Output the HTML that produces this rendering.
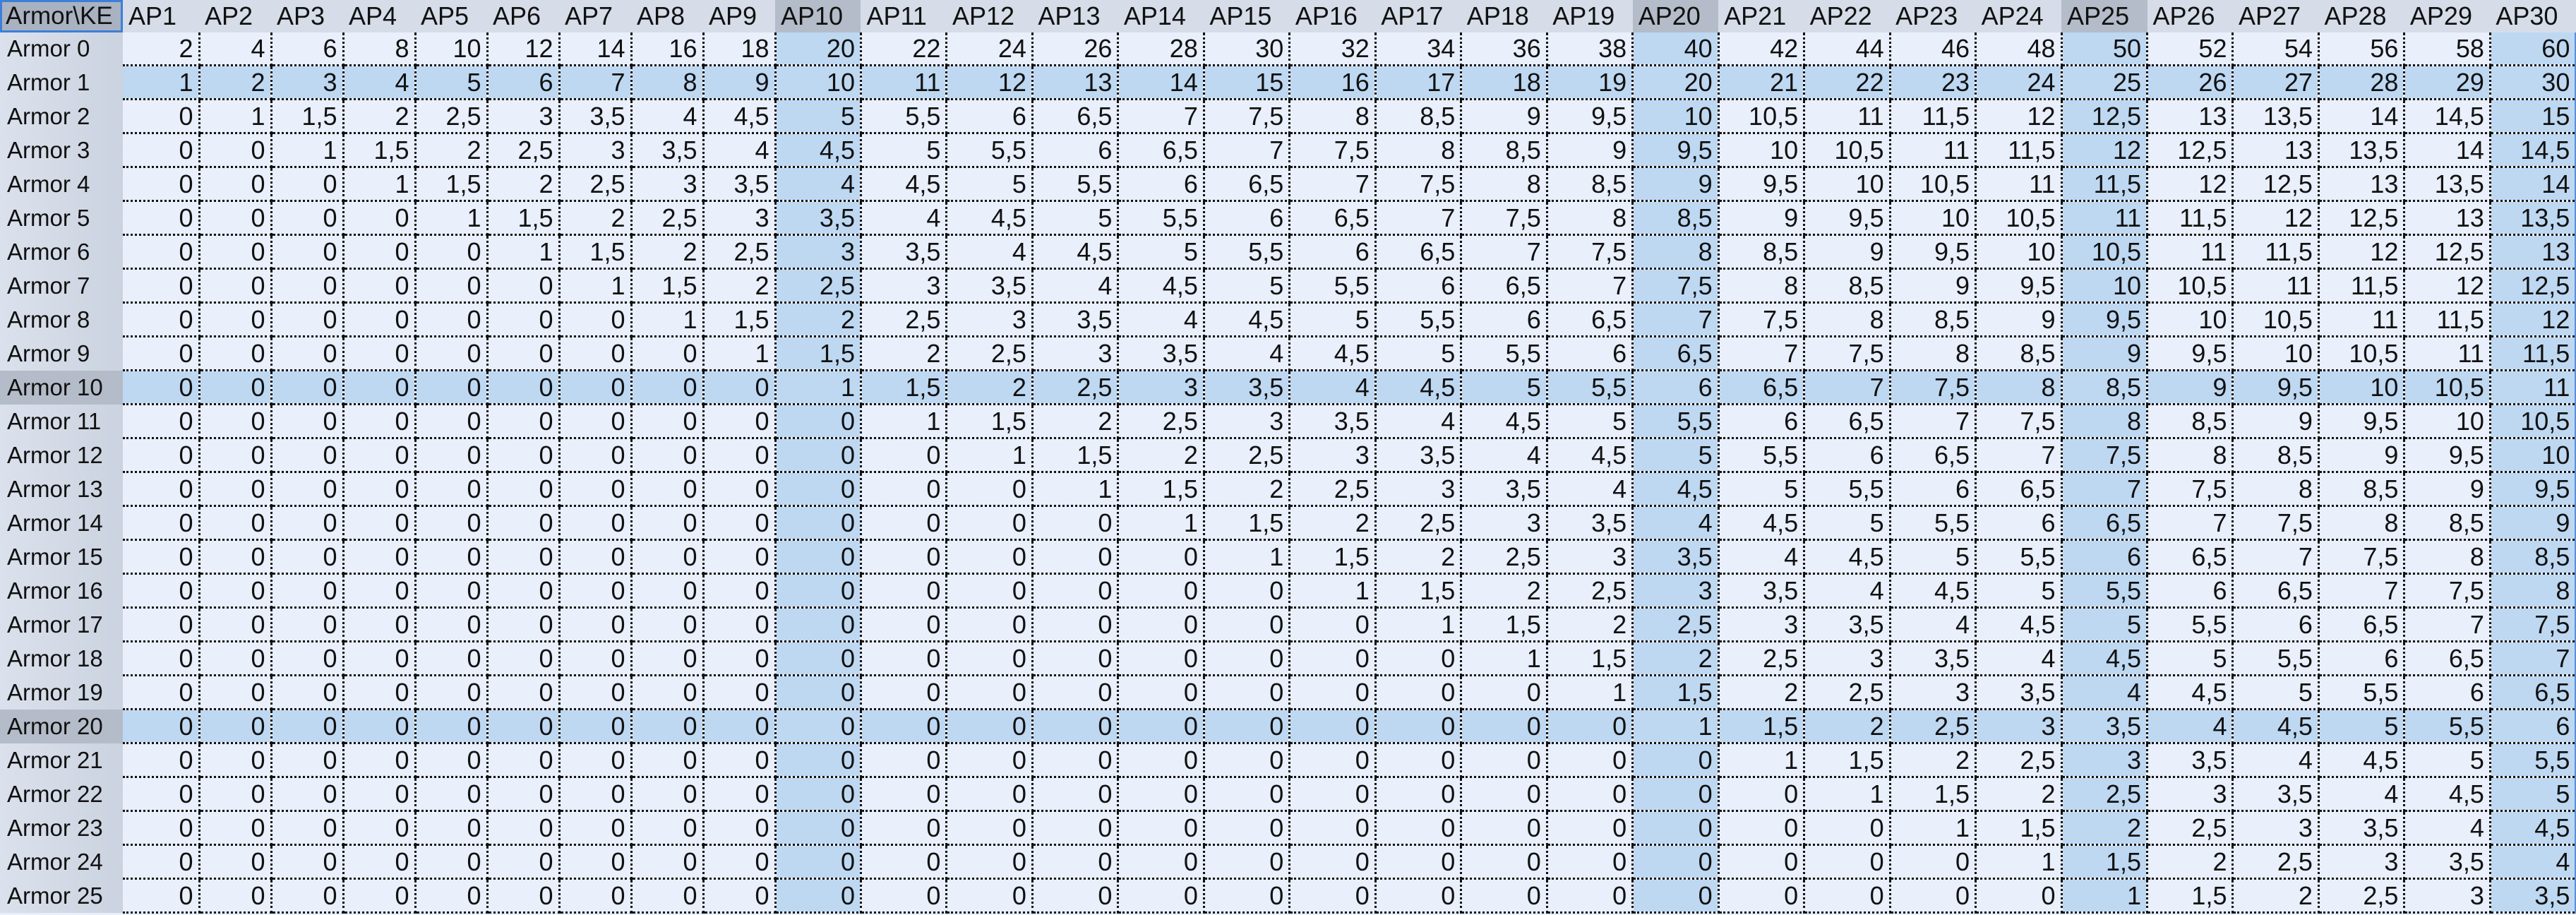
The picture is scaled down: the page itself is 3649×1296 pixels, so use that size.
<!DOCTYPE html>
<html><head><meta charset="utf-8"><style>
html,body{margin:0;padding:0;background:#e9effb;}
body{width:3649px;height:1296px;overflow:hidden;}
table{border-collapse:collapse;table-layout:fixed;width:3649px;background:#e9effb;font-family:"Liberation Sans",Arial,sans-serif;color:#111;}
col.h{background:#bed8f2;}
thead td{height:46px;background:#d6dde9;font-size:36px;text-align:left;padding:0 0 0 8px;border:none;white-space:nowrap;overflow:hidden;vertical-align:middle;}
thead td.s{background:#b4bcc9;}
thead td.c{background:#a9b2c1;box-shadow:inset 0 0 0 3px #3d7fd8;font-size:35px;padding-left:8px;}
tbody td{height:45px;font-size:36px;text-align:right;padding:0 7px 0 0;border-right:3px dotted #111;border-bottom:3px dotted #111;white-space:nowrap;overflow:hidden;vertical-align:middle;}
tbody tr.h{background:#bed8f2;}
tbody th{font-weight:normal;text-align:left;font-size:33px;padding:0 0 0 10px;background:linear-gradient(90deg,#dbe1ec,#cbd3e0);border:none;white-space:nowrap;vertical-align:middle;height:45px;}
tbody th.s{background:#b4bcc9;}
tbody td:last-child{border-right:3px solid #5b8fd6;}
</style></head><body>
<table>
<colgroup><col style="width:174px"><col style="width:108px"><col style="width:102px"><col style="width:102px"><col style="width:102px"><col style="width:102px"><col style="width:102px"><col style="width:102px"><col style="width:102px"><col style="width:102px"><col class="h" style="width:121.47px"><col style="width:121.47px"><col style="width:121.47px"><col style="width:121.47px"><col style="width:121.47px"><col style="width:121.47px"><col style="width:121.47px"><col style="width:121.47px"><col style="width:121.47px"><col style="width:121.47px"><col class="h" style="width:121.47px"><col style="width:121.47px"><col style="width:121.47px"><col style="width:121.47px"><col style="width:121.47px"><col class="h" style="width:121.47px"><col style="width:121.47px"><col style="width:121.47px"><col style="width:121.47px"><col style="width:121.47px"><col class="h" style="width:121.47px"></colgroup>
<thead><tr><td class="c">Armor\KE</td><td>AP1</td><td>AP2</td><td>AP3</td><td>AP4</td><td>AP5</td><td>AP6</td><td>AP7</td><td>AP8</td><td>AP9</td><td class="s">AP10</td><td>AP11</td><td>AP12</td><td>AP13</td><td>AP14</td><td>AP15</td><td>AP16</td><td>AP17</td><td>AP18</td><td>AP19</td><td class="s">AP20</td><td>AP21</td><td>AP22</td><td>AP23</td><td>AP24</td><td class="s">AP25</td><td>AP26</td><td>AP27</td><td>AP28</td><td>AP29</td><td>AP30</td></tr></thead>
<tbody>
<tr><th>Armor 0</th><td>2</td><td>4</td><td>6</td><td>8</td><td>10</td><td>12</td><td>14</td><td>16</td><td>18</td><td>20</td><td>22</td><td>24</td><td>26</td><td>28</td><td>30</td><td>32</td><td>34</td><td>36</td><td>38</td><td>40</td><td>42</td><td>44</td><td>46</td><td>48</td><td>50</td><td>52</td><td>54</td><td>56</td><td>58</td><td>60</td></tr>
<tr class="h"><th>Armor 1</th><td>1</td><td>2</td><td>3</td><td>4</td><td>5</td><td>6</td><td>7</td><td>8</td><td>9</td><td>10</td><td>11</td><td>12</td><td>13</td><td>14</td><td>15</td><td>16</td><td>17</td><td>18</td><td>19</td><td>20</td><td>21</td><td>22</td><td>23</td><td>24</td><td>25</td><td>26</td><td>27</td><td>28</td><td>29</td><td>30</td></tr>
<tr><th>Armor 2</th><td>0</td><td>1</td><td>1,5</td><td>2</td><td>2,5</td><td>3</td><td>3,5</td><td>4</td><td>4,5</td><td>5</td><td>5,5</td><td>6</td><td>6,5</td><td>7</td><td>7,5</td><td>8</td><td>8,5</td><td>9</td><td>9,5</td><td>10</td><td>10,5</td><td>11</td><td>11,5</td><td>12</td><td>12,5</td><td>13</td><td>13,5</td><td>14</td><td>14,5</td><td>15</td></tr>
<tr><th>Armor 3</th><td>0</td><td>0</td><td>1</td><td>1,5</td><td>2</td><td>2,5</td><td>3</td><td>3,5</td><td>4</td><td>4,5</td><td>5</td><td>5,5</td><td>6</td><td>6,5</td><td>7</td><td>7,5</td><td>8</td><td>8,5</td><td>9</td><td>9,5</td><td>10</td><td>10,5</td><td>11</td><td>11,5</td><td>12</td><td>12,5</td><td>13</td><td>13,5</td><td>14</td><td>14,5</td></tr>
<tr><th>Armor 4</th><td>0</td><td>0</td><td>0</td><td>1</td><td>1,5</td><td>2</td><td>2,5</td><td>3</td><td>3,5</td><td>4</td><td>4,5</td><td>5</td><td>5,5</td><td>6</td><td>6,5</td><td>7</td><td>7,5</td><td>8</td><td>8,5</td><td>9</td><td>9,5</td><td>10</td><td>10,5</td><td>11</td><td>11,5</td><td>12</td><td>12,5</td><td>13</td><td>13,5</td><td>14</td></tr>
<tr><th>Armor 5</th><td>0</td><td>0</td><td>0</td><td>0</td><td>1</td><td>1,5</td><td>2</td><td>2,5</td><td>3</td><td>3,5</td><td>4</td><td>4,5</td><td>5</td><td>5,5</td><td>6</td><td>6,5</td><td>7</td><td>7,5</td><td>8</td><td>8,5</td><td>9</td><td>9,5</td><td>10</td><td>10,5</td><td>11</td><td>11,5</td><td>12</td><td>12,5</td><td>13</td><td>13,5</td></tr>
<tr><th>Armor 6</th><td>0</td><td>0</td><td>0</td><td>0</td><td>0</td><td>1</td><td>1,5</td><td>2</td><td>2,5</td><td>3</td><td>3,5</td><td>4</td><td>4,5</td><td>5</td><td>5,5</td><td>6</td><td>6,5</td><td>7</td><td>7,5</td><td>8</td><td>8,5</td><td>9</td><td>9,5</td><td>10</td><td>10,5</td><td>11</td><td>11,5</td><td>12</td><td>12,5</td><td>13</td></tr>
<tr><th>Armor 7</th><td>0</td><td>0</td><td>0</td><td>0</td><td>0</td><td>0</td><td>1</td><td>1,5</td><td>2</td><td>2,5</td><td>3</td><td>3,5</td><td>4</td><td>4,5</td><td>5</td><td>5,5</td><td>6</td><td>6,5</td><td>7</td><td>7,5</td><td>8</td><td>8,5</td><td>9</td><td>9,5</td><td>10</td><td>10,5</td><td>11</td><td>11,5</td><td>12</td><td>12,5</td></tr>
<tr><th>Armor 8</th><td>0</td><td>0</td><td>0</td><td>0</td><td>0</td><td>0</td><td>0</td><td>1</td><td>1,5</td><td>2</td><td>2,5</td><td>3</td><td>3,5</td><td>4</td><td>4,5</td><td>5</td><td>5,5</td><td>6</td><td>6,5</td><td>7</td><td>7,5</td><td>8</td><td>8,5</td><td>9</td><td>9,5</td><td>10</td><td>10,5</td><td>11</td><td>11,5</td><td>12</td></tr>
<tr><th>Armor 9</th><td>0</td><td>0</td><td>0</td><td>0</td><td>0</td><td>0</td><td>0</td><td>0</td><td>1</td><td>1,5</td><td>2</td><td>2,5</td><td>3</td><td>3,5</td><td>4</td><td>4,5</td><td>5</td><td>5,5</td><td>6</td><td>6,5</td><td>7</td><td>7,5</td><td>8</td><td>8,5</td><td>9</td><td>9,5</td><td>10</td><td>10,5</td><td>11</td><td>11,5</td></tr>
<tr class="h"><th class="s">Armor 10</th><td>0</td><td>0</td><td>0</td><td>0</td><td>0</td><td>0</td><td>0</td><td>0</td><td>0</td><td>1</td><td>1,5</td><td>2</td><td>2,5</td><td>3</td><td>3,5</td><td>4</td><td>4,5</td><td>5</td><td>5,5</td><td>6</td><td>6,5</td><td>7</td><td>7,5</td><td>8</td><td>8,5</td><td>9</td><td>9,5</td><td>10</td><td>10,5</td><td>11</td></tr>
<tr><th>Armor 11</th><td>0</td><td>0</td><td>0</td><td>0</td><td>0</td><td>0</td><td>0</td><td>0</td><td>0</td><td>0</td><td>1</td><td>1,5</td><td>2</td><td>2,5</td><td>3</td><td>3,5</td><td>4</td><td>4,5</td><td>5</td><td>5,5</td><td>6</td><td>6,5</td><td>7</td><td>7,5</td><td>8</td><td>8,5</td><td>9</td><td>9,5</td><td>10</td><td>10,5</td></tr>
<tr><th>Armor 12</th><td>0</td><td>0</td><td>0</td><td>0</td><td>0</td><td>0</td><td>0</td><td>0</td><td>0</td><td>0</td><td>0</td><td>1</td><td>1,5</td><td>2</td><td>2,5</td><td>3</td><td>3,5</td><td>4</td><td>4,5</td><td>5</td><td>5,5</td><td>6</td><td>6,5</td><td>7</td><td>7,5</td><td>8</td><td>8,5</td><td>9</td><td>9,5</td><td>10</td></tr>
<tr><th>Armor 13</th><td>0</td><td>0</td><td>0</td><td>0</td><td>0</td><td>0</td><td>0</td><td>0</td><td>0</td><td>0</td><td>0</td><td>0</td><td>1</td><td>1,5</td><td>2</td><td>2,5</td><td>3</td><td>3,5</td><td>4</td><td>4,5</td><td>5</td><td>5,5</td><td>6</td><td>6,5</td><td>7</td><td>7,5</td><td>8</td><td>8,5</td><td>9</td><td>9,5</td></tr>
<tr><th>Armor 14</th><td>0</td><td>0</td><td>0</td><td>0</td><td>0</td><td>0</td><td>0</td><td>0</td><td>0</td><td>0</td><td>0</td><td>0</td><td>0</td><td>1</td><td>1,5</td><td>2</td><td>2,5</td><td>3</td><td>3,5</td><td>4</td><td>4,5</td><td>5</td><td>5,5</td><td>6</td><td>6,5</td><td>7</td><td>7,5</td><td>8</td><td>8,5</td><td>9</td></tr>
<tr><th>Armor 15</th><td>0</td><td>0</td><td>0</td><td>0</td><td>0</td><td>0</td><td>0</td><td>0</td><td>0</td><td>0</td><td>0</td><td>0</td><td>0</td><td>0</td><td>1</td><td>1,5</td><td>2</td><td>2,5</td><td>3</td><td>3,5</td><td>4</td><td>4,5</td><td>5</td><td>5,5</td><td>6</td><td>6,5</td><td>7</td><td>7,5</td><td>8</td><td>8,5</td></tr>
<tr><th>Armor 16</th><td>0</td><td>0</td><td>0</td><td>0</td><td>0</td><td>0</td><td>0</td><td>0</td><td>0</td><td>0</td><td>0</td><td>0</td><td>0</td><td>0</td><td>0</td><td>1</td><td>1,5</td><td>2</td><td>2,5</td><td>3</td><td>3,5</td><td>4</td><td>4,5</td><td>5</td><td>5,5</td><td>6</td><td>6,5</td><td>7</td><td>7,5</td><td>8</td></tr>
<tr><th>Armor 17</th><td>0</td><td>0</td><td>0</td><td>0</td><td>0</td><td>0</td><td>0</td><td>0</td><td>0</td><td>0</td><td>0</td><td>0</td><td>0</td><td>0</td><td>0</td><td>0</td><td>1</td><td>1,5</td><td>2</td><td>2,5</td><td>3</td><td>3,5</td><td>4</td><td>4,5</td><td>5</td><td>5,5</td><td>6</td><td>6,5</td><td>7</td><td>7,5</td></tr>
<tr><th>Armor 18</th><td>0</td><td>0</td><td>0</td><td>0</td><td>0</td><td>0</td><td>0</td><td>0</td><td>0</td><td>0</td><td>0</td><td>0</td><td>0</td><td>0</td><td>0</td><td>0</td><td>0</td><td>1</td><td>1,5</td><td>2</td><td>2,5</td><td>3</td><td>3,5</td><td>4</td><td>4,5</td><td>5</td><td>5,5</td><td>6</td><td>6,5</td><td>7</td></tr>
<tr><th>Armor 19</th><td>0</td><td>0</td><td>0</td><td>0</td><td>0</td><td>0</td><td>0</td><td>0</td><td>0</td><td>0</td><td>0</td><td>0</td><td>0</td><td>0</td><td>0</td><td>0</td><td>0</td><td>0</td><td>1</td><td>1,5</td><td>2</td><td>2,5</td><td>3</td><td>3,5</td><td>4</td><td>4,5</td><td>5</td><td>5,5</td><td>6</td><td>6,5</td></tr>
<tr class="h"><th class="s">Armor 20</th><td>0</td><td>0</td><td>0</td><td>0</td><td>0</td><td>0</td><td>0</td><td>0</td><td>0</td><td>0</td><td>0</td><td>0</td><td>0</td><td>0</td><td>0</td><td>0</td><td>0</td><td>0</td><td>0</td><td>1</td><td>1,5</td><td>2</td><td>2,5</td><td>3</td><td>3,5</td><td>4</td><td>4,5</td><td>5</td><td>5,5</td><td>6</td></tr>
<tr><th>Armor 21</th><td>0</td><td>0</td><td>0</td><td>0</td><td>0</td><td>0</td><td>0</td><td>0</td><td>0</td><td>0</td><td>0</td><td>0</td><td>0</td><td>0</td><td>0</td><td>0</td><td>0</td><td>0</td><td>0</td><td>0</td><td>1</td><td>1,5</td><td>2</td><td>2,5</td><td>3</td><td>3,5</td><td>4</td><td>4,5</td><td>5</td><td>5,5</td></tr>
<tr><th>Armor 22</th><td>0</td><td>0</td><td>0</td><td>0</td><td>0</td><td>0</td><td>0</td><td>0</td><td>0</td><td>0</td><td>0</td><td>0</td><td>0</td><td>0</td><td>0</td><td>0</td><td>0</td><td>0</td><td>0</td><td>0</td><td>0</td><td>1</td><td>1,5</td><td>2</td><td>2,5</td><td>3</td><td>3,5</td><td>4</td><td>4,5</td><td>5</td></tr>
<tr><th>Armor 23</th><td>0</td><td>0</td><td>0</td><td>0</td><td>0</td><td>0</td><td>0</td><td>0</td><td>0</td><td>0</td><td>0</td><td>0</td><td>0</td><td>0</td><td>0</td><td>0</td><td>0</td><td>0</td><td>0</td><td>0</td><td>0</td><td>0</td><td>1</td><td>1,5</td><td>2</td><td>2,5</td><td>3</td><td>3,5</td><td>4</td><td>4,5</td></tr>
<tr><th>Armor 24</th><td>0</td><td>0</td><td>0</td><td>0</td><td>0</td><td>0</td><td>0</td><td>0</td><td>0</td><td>0</td><td>0</td><td>0</td><td>0</td><td>0</td><td>0</td><td>0</td><td>0</td><td>0</td><td>0</td><td>0</td><td>0</td><td>0</td><td>0</td><td>1</td><td>1,5</td><td>2</td><td>2,5</td><td>3</td><td>3,5</td><td>4</td></tr>
<tr><th>Armor 25</th><td>0</td><td>0</td><td>0</td><td>0</td><td>0</td><td>0</td><td>0</td><td>0</td><td>0</td><td>0</td><td>0</td><td>0</td><td>0</td><td>0</td><td>0</td><td>0</td><td>0</td><td>0</td><td>0</td><td>0</td><td>0</td><td>0</td><td>0</td><td>0</td><td>1</td><td>1,5</td><td>2</td><td>2,5</td><td>3</td><td>3,5</td></tr>
</tbody></table>
</body></html>
